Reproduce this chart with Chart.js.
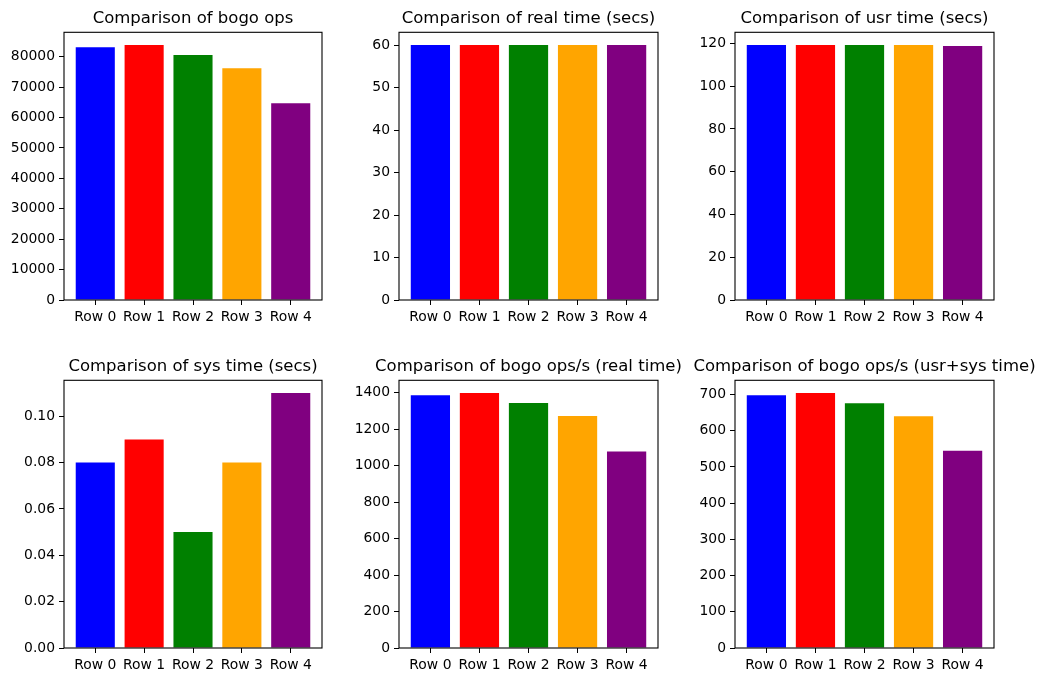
<!DOCTYPE html>
<html>
<head>
<meta charset="utf-8">
<script src="https://cdn.jsdelivr.net/npm/chart.js@4.4.0/dist/chart.umd.min.js"></script>
<style>
  html, body { margin: 0; padding: 0; background: #fff; }
  #page { position: relative; width: 1046px; height: 682px; overflow: hidden; }
  #page canvas { position: absolute; }
</style>
</head>
<body>
<div id="page"></div>
<script>
// values
const rowLabels = ["Row 0", "Row 1", "Row 2", "Row 3", "Row 4"];
const bogoOps = [83100, 83850, 80550, 76250, 64700];
const realTime = [60.0, 60.0, 60.0, 60.0, 60.0];
const usrTime = [119.2, 119.2, 119.2, 119.2, 118.8];
const sysTime = [0.08, 0.09, 0.05, 0.08, 0.11];
const bogoOpsReal = [1385, 1397, 1342, 1271, 1077];
const bogoOpsUsrSys = [698, 704, 676, 640, 545];

// y tick values for each panel
const bogoOpsTicks = [0, 10000, 20000, 30000, 40000, 50000, 60000, 70000, 80000];
const realTimeTicks = [0, 10, 20, 30, 40, 50, 60];
const usrTimeTicks = [0, 20, 40, 60, 80, 100, 120];
const sysTimeTicks = [0, 0.02, 0.04, 0.06, 0.08, 0.10];
const bogoOpsRealTicks = [0, 200, 400, 600, 800, 1000, 1200, 1400];
const bogoOpsUsrSysTicks = [0, 100, 200, 300, 400, 500, 600, 700];

const barColors = ["#0000ff", "#ff0000", "#008000", "#ffa500", "#800080"];

// left edge of each plot box and top of each row (pixels)
const panels = [
  { title: "Comparison of bogo ops", values: bogoOps, ticks: bogoOpsTicks, decimals: 0, boxLeft: 64, boxWidth: 258, rowTop: 0 },
  { title: "Comparison of real time (secs)", values: realTime, ticks: realTimeTicks, decimals: 0, boxLeft: 399, boxWidth: 259, rowTop: 0 },
  { title: "Comparison of usr time (secs)", values: usrTime, ticks: usrTimeTicks, decimals: 0, boxLeft: 735, boxWidth: 259, rowTop: 0 },
  { title: "Comparison of sys time (secs)", values: sysTime, ticks: sysTimeTicks, decimals: 2, boxLeft: 64, boxWidth: 258, rowTop: 348 },
  { title: "Comparison of bogo ops/s (real time)", values: bogoOpsReal, ticks: bogoOpsRealTicks, decimals: 0, boxLeft: 399, boxWidth: 259, rowTop: 348 },
  { title: "Comparison of bogo ops/s (usr+sys time)", values: bogoOpsUsrSys, ticks: bogoOpsUsrSysTicks, decimals: 0, boxLeft: 735, boxWidth: 259, rowTop: 348 }
];

const AXIS_W = 64;
const TICK_FONT = { family: "DejaVu Sans", size: 13.9 };

// box around the plot area, like matplotlib spines
const framePlugin = {
  id: "frame",
  afterDatasetsDraw(chart) {
    const a = chart.chartArea;
    const ctx = chart.ctx;
    ctx.save();
    ctx.strokeStyle = "#000";
    ctx.lineWidth = 1.1;
    ctx.strokeRect(a.left, a.top, a.right - a.left, a.bottom - a.top);
    ctx.restore();
  }
};

const page = document.getElementById("page");

panels.forEach(p => {
  const canvas = document.createElement("canvas");
  canvas.width = p.boxWidth + AXIS_W * 2;
  canvas.height = 330;
  canvas.style.left = (p.boxLeft - AXIS_W) + "px";
  canvas.style.top = p.rowTop + "px";
  page.appendChild(canvas);

  const yMax = Math.max(...p.values) * 1.05;

  new Chart(canvas.getContext("2d"), {
    type: "bar",
    data: {
      datasets: [{
        data: p.values.map((v, i) => ({ x: i, y: v })),
        backgroundColor: barColors,
        borderWidth: 0,
        categoryPercentage: 1.0,
        barPercentage: 0.8
      }]
    },
    options: {
      responsive: false,
      animation: false,
      layout: { padding: 0 },
      plugins: {
        legend: { display: false },
        tooltip: { enabled: false },
        title: {
          display: true,
          text: p.title,
          color: "#000",
          font: { family: "DejaVu Sans", size: 16.5, weight: "normal", lineHeight: 1.2 },
          padding: { top: 9, bottom: 3.5 }
        }
      },
      scales: {
        x: {
          type: "linear",
          offset: false,
          min: -0.64,
          max: 4.64,
          afterBuildTicks: s => { s.ticks = rowLabels.map((_, i) => ({ value: i })); },
          afterFit: s => { s.height = 30; },
          ticks: {
            autoSkip: false,
            maxRotation: 0,
            padding: 4,
            color: "#000",
            font: TICK_FONT,
            callback: v => rowLabels[v]
          },
          grid: { offset: false, drawOnChartArea: false, drawTicks: true, tickLength: 5, color: "#000", lineWidth: 1 },
          border: { display: false }
        },
        y: {
          type: "linear",
          position: "left",
          min: 0,
          max: yMax,
          afterBuildTicks: s => { s.ticks = p.ticks.map(v => ({ value: v })); },
          afterFit: s => { s.width = AXIS_W; },
          ticks: {
            padding: 4,
            color: "#000",
            font: TICK_FONT,
            callback: v => Number(v).toFixed(p.decimals)
          },
          grid: { drawOnChartArea: false, drawTicks: true, tickLength: 5, color: "#000", lineWidth: 1 },
          border: { display: false }
        },
        // empty axis on the right so the title sits centred over the plot box
        y2: {
          type: "linear",
          position: "right",
          afterFit: s => { s.width = AXIS_W; },
          ticks: { display: false },
          grid: { display: false },
          border: { display: false }
        }
      }
    },
    plugins: [framePlugin]
  });
});
</script>
</body>
</html>
